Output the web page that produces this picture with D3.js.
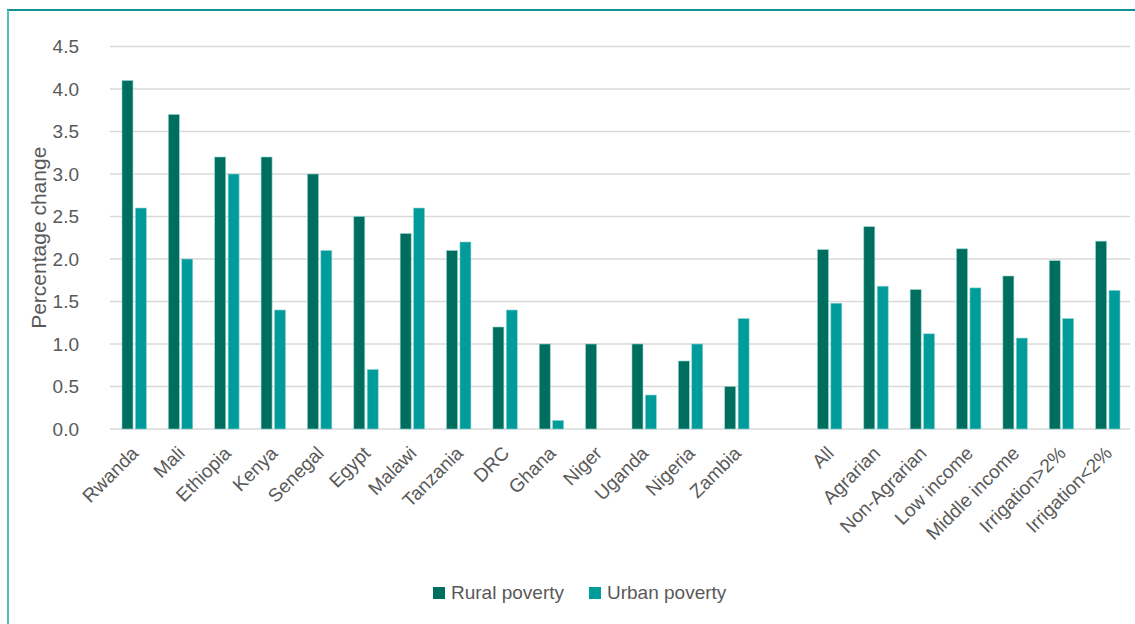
<!DOCTYPE html>
<html>
<head>
<meta charset="utf-8">
<script src="https://cdn.jsdelivr.net/npm/d3@7"></script>
<style>
  body { margin: 0; background: #fff; }
  svg { display: block; font-family: "Liberation Sans Narrow", "Arial Narrow", sans-serif; }
</style>
</head>
<body>
<div id="chart"></div>
<script>
// ========================
// Data
// ========================
const categories = ["Rwanda", "Mali", "Ethiopia", "Kenya", "Senegal", "Egypt", "Malawi", "Tanzania",
    "DRC", "Ghana", "Niger", "Uganda", "Nigeria", "Zambia", "",
    "All", "Agrarian", "Non-Agrarian", "Low income", "Middle income", "Irrigation>2%", "Irrigation<2%"];

const ruralPoverty = [4.1, 3.7, 3.2, 3.2, 3.0, 2.5, 2.3, 2.1, 1.2, 1.0, 1.0, 1.0, 0.8, 0.5, null,
    2.11, 2.38, 1.64, 2.12, 1.80, 1.98, 2.21];
const urbanPoverty = [2.6, 2.0, 3.0, 1.4, 2.1, 0.7, 2.6, 2.2, 1.4, 0.1, null, 0.4, 1.0, 1.3, null,
    1.48, 1.68, 1.12, 1.66, 1.07, 1.30, 1.63];

const seriesNames = ["Rural poverty", "Urban poverty"];
const seriesColors = ["#006e5f", "#009c9c"];
const yTicks = [0, 0.5, 1.0, 1.5, 2.0, 2.5, 3.0, 3.5, 4.0, 4.5];

// ========================
// Setup
// ========================
const width = 1135, height = 624;
const textColor = "#595959";

const svg = d3.select("#chart").append("svg")
    .attr("width", width)
    .attr("height", height);

// frame of the figure box
svg.append("line")
    .attr("x1", 7).attr("x2", width).attr("y1", 10).attr("y2", 10)
    .attr("stroke", "#13908f").attr("stroke-width", 2);
svg.append("line")
    .attr("x1", 8).attr("x2", 8).attr("y1", 10).attr("y2", height)
    .attr("stroke", "#4dbfbf").attr("stroke-width", 2);

// keys keep the empty gap slot unique
const keys = categories.map((c, i) => i);

const x = d3.scaleBand()
    .domain(keys)
    .range([111, 1131]);

const xSub = d3.scaleBand()
    .domain(seriesNames)
    .range([0, x.step()])
    .paddingInner(0.18)
    .paddingOuter(0.82);

const y = d3.scaleLinear()
    .domain([0, 4.5])
    .range([429, 46.5]);

// ========================
// Grid + y axis
// ========================
const grid = svg.append("g");
grid.selectAll("line")
    .data(yTicks)
    .join("line")
    .attr("x1", 110).attr("x2", 1130)
    .attr("y1", d => y(d)).attr("y2", d => y(d))
    .attr("stroke", "#d9d9d9")
    .attr("stroke-width", 1.5);

grid.selectAll("text")
    .data(yTicks)
    .join("text")
    .attr("x", 79)
    .attr("y", d => y(d))
    .attr("dy", "0.35em")
    .attr("text-anchor", "end")
    .attr("fill", textColor)
    .style("font-size", "19px")
    .text(d => d3.format(".1f")(d));

svg.append("text")
    .attr("transform", `translate(46, ${y(2.25)}) rotate(-90)`)
    .attr("text-anchor", "middle")
    .attr("fill", textColor)
    .style("font-size", "21px")
    .text("Percentage change");

// ========================
// Bars
// ========================
const rows = keys.map(i => ({
    key: i,
    values: [ruralPoverty[i], urbanPoverty[i]]
}));

const groups = svg.append("g").selectAll("g")
    .data(rows)
    .join("g")
    .attr("transform", d => `translate(${x(d.key)},0)`);

groups.selectAll("rect")
    .data(d => d.values.map((v, j) => ({ name: seriesNames[j], value: v, color: seriesColors[j] }))
        .filter(e => e.value !== null))
    .join("rect")
    .attr("x", d => xSub(d.name))
    .attr("width", xSub.bandwidth())
    .attr("y", d => y(d.value))
    .attr("height", d => y(0) - y(d.value))
    .attr("fill", d => d.color)
    .attr("stroke", "#8fd3cf")
    .attr("stroke-width", 0.6);

// ========================
// Category labels
// ========================
svg.append("g").selectAll("text")
    .data(keys.filter(i => categories[i] !== ""))
    .join("text")
    .attr("transform", i => `translate(${x(i) + x.bandwidth() / 2 - 4}, 445) rotate(-45)`)
    .attr("dy", "0.7em")
    .attr("text-anchor", "end")
    .attr("fill", textColor)
    .style("font-size", "19px")
    .text(i => categories[i]);

// ========================
// Legend
// ========================
const legendItems = [
    { name: seriesNames[0], color: seriesColors[0], x: 433 },
    { name: seriesNames[1], color: seriesColors[1], x: 589 }
];

const legend = svg.append("g").selectAll("g")
    .data(legendItems)
    .join("g")
    .attr("transform", d => `translate(${d.x}, 587)`);

legend.append("rect")
    .attr("width", 12).attr("height", 12)
    .attr("fill", d => d.color);

legend.append("text")
    .attr("x", 18)
    .attr("y", 12)
    .attr("fill", textColor)
    .style("font-size", "19px")
    .text(d => d.name);
</script>
</body>
</html>
